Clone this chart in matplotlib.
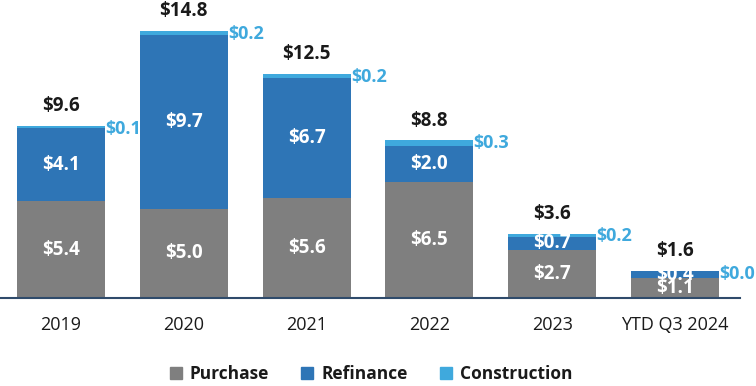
import matplotlib.pyplot as plt
from matplotlib.patches import Patch

years = ['2019', '2020', '2021', '2022', '2023', 'YTD Q3 2024']
purchase = [5.4, 5.0, 5.6, 6.5, 2.7, 1.1]
refinance = [4.1, 9.7, 6.7, 2.0, 0.7, 0.4]
construction = [0.1, 0.2, 0.2, 0.3, 0.2, 0.0]
totals = [9.6, 14.8, 12.5, 8.8, 3.6, 1.6]

GRAY = '#7f7f7f'
BLUE = '#2e75b6'
LIGHT = '#3fa9dd'
FONT = 'Open Sans'

plt.rcParams['font.family'] = FONT

fig = plt.figure(figsize=(7.56, 3.86), dpi=100)
ax = fig.add_axes((0.0, 0.228, 740 / 756, 0.772))

x = list(range(len(years)))
width = 0.717
base2 = [p + r for p, r in zip(purchase, refinance)]

ax.bar(x, purchase, width, color=GRAY)
ax.bar(x, refinance, width, bottom=purchase, color=BLUE)
ax.bar(x, construction, width, bottom=base2, color=LIGHT)

for i in x:
    ax.text(i, purchase[i] / 2, f'${purchase[i]:.1f}', ha='center', va='center',
            color='white', fontsize=13.5, fontweight='bold')
    ax.text(i, purchase[i] + refinance[i] / 2, f'${refinance[i]:.1f}', ha='center', va='center',
            color='white', fontsize=13.5, fontweight='bold')
    top = base2[i] + construction[i]
    ax.text(i, top + 0.55, f'${totals[i]:.1f}', ha='center', va='bottom',
            color='#1a1a1a', fontsize=13.5, fontweight='bold')
    ax.text(i + width / 2 + 0.003, top - 0.15, f'${construction[i]:.1f}', ha='left', va='center',
            color=LIGHT, fontsize=13, fontweight='bold')

ax.set_xlim(-0.497, 5.53)
ax.set_ylim(0, 16.65)
ax.set_xticks(x)
ax.set_xticklabels(years, fontsize=13, color='#1a1a1a')
ax.tick_params(axis='x', length=0, pad=13)
ax.set_yticks([])
for s in ['top', 'right', 'left']:
    ax.spines[s].set_visible(False)
ax.spines['bottom'].set_color('#2f4b6b')
ax.spines['bottom'].set_linewidth(1.5)

handles = [Patch(color=GRAY, label='Purchase'), Patch(color=BLUE, label='Refinance'),
           Patch(color=LIGHT, label='Construction')]
leg = fig.legend(handles=handles, loc='center', bbox_to_anchor=(371 / 756, 1 - 374 / 386), ncol=3,
                 frameon=False, handlelength=0.7, handleheight=0.7, handletextpad=0.45, columnspacing=1.85,
                 prop={'family': FONT, 'weight': 'bold', 'size': 12.5})
for t in leg.get_texts():
    t.set_color('#1a1a1a')

fig.savefig('out.png', dpi=100)
